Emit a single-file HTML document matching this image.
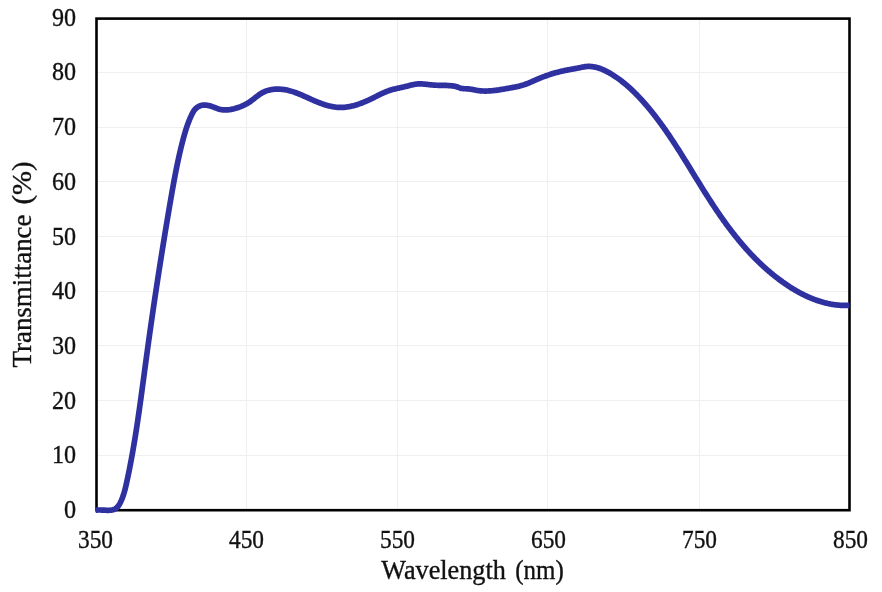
<!DOCTYPE html>
<html><head><meta charset="utf-8"><style>
html,body{margin:0;padding:0;background:#fff;}
.wrap{will-change:transform;}
svg{display:block;}
text{font-family:"Liberation Serif",serif;fill:#111;stroke:#111;stroke-width:0.35px;}
</style></head><body>
<div class="wrap"><svg width="882" height="592" viewBox="0 0 882 592">
<rect width="882" height="592" fill="#fff"/>
<g stroke="#efefef" stroke-width="1"><line x1="96.5" y1="455.50" x2="849.5" y2="455.50"/><line x1="96.5" y1="400.50" x2="849.5" y2="400.50"/><line x1="96.5" y1="345.50" x2="849.5" y2="345.50"/><line x1="96.5" y1="291.50" x2="849.5" y2="291.50"/><line x1="96.5" y1="236.50" x2="849.5" y2="236.50"/><line x1="96.5" y1="181.50" x2="849.5" y2="181.50"/><line x1="96.5" y1="127.50" x2="849.5" y2="127.50"/><line x1="96.5" y1="72.50" x2="849.5" y2="72.50"/><line x1="246.50" y1="18.6" x2="246.50" y2="510.2"/><line x1="397.50" y1="18.6" x2="397.50" y2="510.2"/><line x1="547.50" y1="18.6" x2="547.50" y2="510.2"/><line x1="699.50" y1="18.6" x2="699.50" y2="510.2"/></g>
<rect x="96.5" y="18.6" width="753.0" height="491.59999999999997" fill="none" stroke="#000" stroke-width="2.6"/>
<path d="M95.50,510.20 L96.36,510.11 L97.21,510.05 L98.07,510.01 L98.93,510.00 L99.80,510.00 L100.66,510.02 L101.53,510.05 L102.40,510.09 L103.27,510.13 L104.14,510.18 L105.01,510.22 L105.88,510.25 L106.75,510.28 L107.63,510.29 L108.50,510.29 L109.38,510.27 L110.25,510.22 L111.12,510.14 L111.98,510.02 L112.82,509.85 L113.64,509.61 L114.42,509.29 L115.16,508.90 L115.87,508.44 L116.53,507.92 L117.15,507.34 L117.73,506.71 L118.26,506.04 L118.76,505.34 L119.23,504.60 L119.67,503.84 L120.09,503.06 L120.48,502.26 L120.86,501.47 L121.23,500.67 L121.58,499.86 L121.91,499.05 L122.24,498.24 L122.55,497.43 L122.84,496.62 L123.13,495.80 L123.41,494.98 L123.67,494.15 L123.93,493.33 L124.18,492.50 L124.42,491.67 L124.65,490.84 L124.87,490.01 L125.09,489.18 L125.30,488.34 L125.51,487.50 L125.71,486.67 L125.91,485.83 L126.10,484.99 L126.29,484.15 L126.48,483.31 L126.66,482.47 L126.85,481.63 L127.03,480.78 L127.21,479.94 L127.39,479.10 L127.57,478.26 L127.75,477.41 L127.93,476.57 L128.10,475.73 L128.28,474.88 L128.45,474.04 L128.63,473.19 L128.80,472.35 L128.97,471.51 L129.14,470.66 L129.31,469.82 L129.48,468.97 L129.65,468.12 L129.81,467.28 L129.98,466.43 L130.14,465.58 L130.31,464.74 L130.47,463.89 L130.63,463.04 L130.79,462.20 L130.95,461.35 L131.11,460.50 L131.27,459.65 L131.43,458.80 L131.58,457.96 L131.74,457.11 L131.89,456.26 L132.05,455.41 L132.20,454.56 L132.35,453.71 L132.51,452.86 L132.66,452.01 L132.81,451.16 L132.96,450.31 L133.10,449.46 L133.25,448.61 L133.40,447.76 L133.54,446.91 L133.69,446.05 L133.83,445.20 L133.98,444.35 L134.12,443.50 L134.26,442.65 L134.41,441.79 L134.55,440.94 L134.69,440.09 L134.83,439.24 L134.97,438.38 L135.10,437.53 L135.24,436.68 L135.38,435.82 L135.52,434.97 L135.65,434.12 L135.79,433.26 L135.92,432.41 L136.06,431.55 L136.19,430.70 L136.32,429.84 L136.46,428.99 L136.59,428.13 L136.72,427.28 L136.85,426.42 L136.98,425.57 L137.11,424.71 L137.24,423.86 L137.37,423.00 L137.50,422.15 L137.62,421.29 L137.75,420.43 L137.88,419.58 L138.00,418.72 L138.13,417.87 L138.26,417.01 L138.38,416.15 L138.51,415.30 L138.63,414.44 L138.75,413.58 L138.88,412.73 L139.00,411.87 L139.12,411.01 L139.25,410.15 L139.37,409.30 L139.49,408.44 L139.61,407.58 L139.73,406.72 L139.85,405.87 L139.97,405.01 L140.09,404.15 L140.21,403.29 L140.33,402.43 L140.45,401.58 L140.57,400.72 L140.69,399.86 L140.81,399.00 L140.92,398.14 L141.04,397.29 L141.16,396.43 L141.28,395.57 L141.39,394.71 L141.51,393.85 L141.63,392.99 L141.75,392.13 L141.86,391.28 L141.98,390.42 L142.09,389.56 L142.21,388.70 L142.33,387.84 L142.44,386.98 L142.56,386.12 L142.67,385.26 L142.79,384.41 L142.90,383.55 L143.02,382.69 L143.13,381.83 L143.25,380.97 L143.36,380.11 L143.48,379.25 L143.59,378.39 L143.71,377.53 L143.82,376.67 L143.94,375.82 L144.05,374.96 L144.17,374.10 L144.28,373.24 L144.40,372.38 L144.51,371.52 L144.63,370.66 L144.74,369.80 L144.86,368.94 L144.97,368.08 L145.09,367.23 L145.20,366.37 L145.32,365.51 L145.43,364.65 L145.55,363.79 L145.67,362.93 L145.78,362.07 L145.90,361.21 L146.01,360.36 L146.13,359.50 L146.25,358.64 L146.36,357.78 L146.48,356.92 L146.60,356.06 L146.71,355.20 L146.83,354.35 L146.95,353.49 L147.06,352.63 L147.18,351.77 L147.30,350.91 L147.42,350.06 L147.54,349.20 L147.65,348.34 L147.77,347.48 L147.89,346.62 L148.01,345.77 L148.13,344.91 L148.25,344.05 L148.37,343.19 L148.49,342.34 L148.61,341.48 L148.73,340.62 L148.84,339.76 L148.96,338.91 L149.09,338.05 L149.21,337.19 L149.33,336.33 L149.45,335.48 L149.57,334.62 L149.69,333.76 L149.81,332.90 L149.93,332.05 L150.05,331.19 L150.17,330.33 L150.29,329.48 L150.42,328.62 L150.54,327.76 L150.66,326.90 L150.78,326.05 L150.91,325.19 L151.03,324.33 L151.15,323.48 L151.27,322.62 L151.40,321.76 L151.52,320.91 L151.64,320.05 L151.77,319.20 L151.89,318.34 L152.02,317.48 L152.14,316.63 L152.26,315.77 L152.39,314.91 L152.51,314.06 L152.64,313.20 L152.76,312.34 L152.89,311.49 L153.01,310.63 L153.14,309.78 L153.26,308.92 L153.39,308.06 L153.52,307.21 L153.64,306.35 L153.77,305.50 L153.89,304.64 L154.02,303.79 L154.15,302.93 L154.27,302.07 L154.40,301.22 L154.53,300.36 L154.66,299.51 L154.78,298.65 L154.91,297.80 L155.04,296.94 L155.17,296.09 L155.29,295.23 L155.42,294.38 L155.55,293.52 L155.68,292.66 L155.81,291.81 L155.94,290.95 L156.07,290.10 L156.20,289.24 L156.33,288.39 L156.45,287.53 L156.58,286.68 L156.71,285.82 L156.84,284.97 L156.97,284.11 L157.11,283.26 L157.24,282.41 L157.37,281.55 L157.50,280.70 L157.63,279.84 L157.76,278.99 L157.89,278.13 L158.02,277.28 L158.15,276.42 L158.29,275.57 L158.42,274.71 L158.55,273.86 L158.68,273.01 L158.82,272.15 L158.95,271.30 L159.08,270.44 L159.21,269.59 L159.35,268.73 L159.48,267.88 L159.61,267.03 L159.75,266.17 L159.88,265.32 L160.02,264.46 L160.15,263.61 L160.28,262.76 L160.42,261.90 L160.55,261.05 L160.69,260.20 L160.82,259.34 L160.96,258.49 L161.09,257.63 L161.23,256.78 L161.37,255.93 L161.50,255.07 L161.64,254.22 L161.77,253.37 L161.91,252.51 L162.05,251.66 L162.18,250.81 L162.32,249.95 L162.46,249.10 L162.59,248.25 L162.73,247.39 L162.87,246.54 L163.01,245.69 L163.15,244.83 L163.28,243.98 L163.42,243.13 L163.56,242.28 L163.70,241.42 L163.84,240.57 L163.98,239.72 L164.12,238.86 L164.25,238.01 L164.39,237.16 L164.53,236.31 L164.67,235.45 L164.81,234.60 L164.95,233.75 L165.09,232.90 L165.23,232.04 L165.37,231.19 L165.52,230.34 L165.66,229.49 L165.80,228.63 L165.94,227.78 L166.08,226.93 L166.22,226.08 L166.36,225.22 L166.51,224.37 L166.65,223.52 L166.79,222.67 L166.93,221.81 L167.08,220.96 L167.22,220.11 L167.36,219.26 L167.50,218.41 L167.65,217.55 L167.79,216.70 L167.93,215.85 L168.08,215.00 L168.22,214.15 L168.37,213.30 L168.51,212.44 L168.66,211.59 L168.80,210.74 L168.95,209.89 L169.09,209.04 L169.24,208.18 L169.38,207.33 L169.53,206.48 L169.67,205.63 L169.82,204.78 L169.96,203.93 L170.11,203.08 L170.26,202.22 L170.40,201.37 L170.55,200.52 L170.70,199.67 L170.85,198.82 L170.99,197.97 L171.14,197.12 L171.29,196.27 L171.44,195.41 L171.58,194.56 L171.73,193.71 L171.88,192.86 L172.03,192.01 L172.18,191.16 L172.33,190.31 L172.48,189.46 L172.63,188.61 L172.79,187.76 L172.94,186.91 L173.09,186.06 L173.25,185.21 L173.40,184.36 L173.55,183.51 L173.71,182.66 L173.87,181.81 L174.02,180.96 L174.18,180.11 L174.34,179.26 L174.50,178.41 L174.66,177.56 L174.82,176.71 L174.98,175.86 L175.14,175.01 L175.30,174.16 L175.47,173.32 L175.63,172.47 L175.80,171.62 L175.97,170.77 L176.14,169.92 L176.31,169.08 L176.48,168.23 L176.65,167.38 L176.82,166.53 L176.99,165.69 L177.17,164.84 L177.34,163.99 L177.52,163.15 L177.70,162.30 L177.88,161.46 L178.06,160.61 L178.24,159.76 L178.43,158.92 L178.61,158.07 L178.80,157.23 L178.99,156.38 L179.18,155.54 L179.37,154.69 L179.56,153.85 L179.75,153.01 L179.95,152.16 L180.14,151.32 L180.34,150.48 L180.54,149.63 L180.75,148.79 L180.95,147.95 L181.15,147.11 L181.36,146.27 L181.57,145.42 L181.78,144.58 L181.99,143.74 L182.21,142.90 L182.42,142.06 L182.64,141.22 L182.86,140.38 L183.08,139.54 L183.30,138.70 L183.53,137.86 L183.76,137.03 L183.99,136.19 L184.22,135.35 L184.46,134.52 L184.70,133.68 L184.94,132.85 L185.19,132.02 L185.44,131.19 L185.69,130.36 L185.95,129.53 L186.22,128.70 L186.49,127.88 L186.76,127.06 L187.04,126.24 L187.32,125.42 L187.61,124.60 L187.90,123.79 L188.20,122.98 L188.51,122.17 L188.82,121.37 L189.14,120.57 L189.47,119.77 L189.80,118.97 L190.14,118.18 L190.48,117.39 L190.84,116.60 L191.20,115.82 L191.57,115.04 L191.95,114.27 L192.33,113.50 L192.73,112.73 L193.14,111.98 L193.58,111.23 L194.05,110.51 L194.57,109.82 L195.14,109.15 L195.76,108.52 L196.44,107.93 L197.15,107.39 L197.91,106.89 L198.69,106.45 L199.50,106.07 L200.32,105.75 L201.14,105.50 L201.97,105.31 L202.81,105.17 L203.65,105.10 L204.50,105.07 L205.34,105.10 L206.19,105.17 L207.04,105.28 L207.88,105.42 L208.73,105.60 L209.57,105.82 L210.41,106.05 L211.25,106.31 L212.08,106.59 L212.91,106.88 L213.73,107.19 L214.55,107.50 L215.37,107.80 L216.19,108.11 L217.01,108.40 L217.83,108.68 L218.65,108.95 L219.48,109.19 L220.31,109.40 L221.14,109.57 L221.99,109.72 L222.84,109.83 L223.69,109.90 L224.55,109.94 L225.41,109.96 L226.27,109.94 L227.14,109.90 L228.00,109.83 L228.87,109.74 L229.74,109.62 L230.60,109.48 L231.46,109.33 L232.32,109.15 L233.18,108.96 L234.03,108.75 L234.87,108.52 L235.71,108.29 L236.55,108.04 L237.37,107.78 L238.19,107.51 L239.01,107.22 L239.82,106.93 L240.62,106.62 L241.41,106.29 L242.20,105.96 L242.98,105.61 L243.76,105.24 L244.53,104.86 L245.29,104.47 L246.05,104.07 L246.80,103.65 L247.55,103.21 L248.29,102.76 L249.02,102.30 L249.74,101.82 L250.46,101.32 L251.18,100.81 L251.89,100.29 L252.59,99.76 L253.29,99.22 L253.99,98.68 L254.69,98.13 L255.39,97.58 L256.09,97.03 L256.79,96.49 L257.49,95.96 L258.20,95.43 L258.91,94.91 L259.63,94.41 L260.36,93.93 L261.09,93.46 L261.83,93.02 L262.58,92.60 L263.35,92.20 L264.12,91.83 L264.90,91.49 L265.69,91.17 L266.49,90.88 L267.30,90.61 L268.12,90.36 L268.94,90.14 L269.77,89.93 L270.61,89.76 L271.45,89.60 L272.30,89.47 L273.15,89.35 L274.00,89.26 L274.86,89.19 L275.72,89.14 L276.58,89.10 L277.44,89.09 L278.31,89.09 L279.17,89.12 L280.03,89.16 L280.90,89.22 L281.76,89.29 L282.62,89.39 L283.47,89.49 L284.33,89.62 L285.17,89.76 L286.02,89.91 L286.86,90.08 L287.70,90.26 L288.53,90.46 L289.36,90.67 L290.19,90.89 L291.01,91.12 L291.83,91.37 L292.64,91.62 L293.46,91.89 L294.27,92.16 L295.07,92.45 L295.88,92.74 L296.68,93.04 L297.49,93.35 L298.29,93.67 L299.09,93.99 L299.88,94.32 L300.68,94.65 L301.48,94.99 L302.27,95.33 L303.06,95.68 L303.86,96.03 L304.65,96.39 L305.45,96.74 L306.24,97.10 L307.03,97.46 L307.83,97.82 L308.63,98.19 L309.42,98.55 L310.22,98.91 L311.02,99.27 L311.82,99.62 L312.62,99.98 L313.43,100.33 L314.23,100.68 L315.04,101.03 L315.85,101.37 L316.66,101.70 L317.48,102.04 L318.29,102.36 L319.11,102.68 L319.92,103.00 L320.74,103.30 L321.57,103.60 L322.39,103.90 L323.21,104.18 L324.04,104.45 L324.87,104.72 L325.69,104.98 L326.52,105.22 L327.35,105.46 L328.19,105.69 L329.02,105.90 L329.85,106.10 L330.69,106.29 L331.53,106.47 L332.36,106.63 L333.20,106.78 L334.04,106.92 L334.88,107.04 L335.72,107.15 L336.57,107.24 L337.41,107.31 L338.25,107.37 L339.10,107.41 L339.94,107.44 L340.79,107.45 L341.64,107.44 L342.48,107.41 L343.33,107.36 L344.18,107.30 L345.02,107.23 L345.87,107.13 L346.72,107.03 L347.56,106.91 L348.41,106.77 L349.26,106.62 L350.10,106.46 L350.95,106.28 L351.79,106.09 L352.63,105.89 L353.47,105.67 L354.31,105.45 L355.15,105.21 L355.99,104.96 L356.82,104.70 L357.66,104.44 L358.49,104.16 L359.32,103.87 L360.15,103.58 L360.97,103.27 L361.80,102.96 L362.62,102.64 L363.44,102.31 L364.25,101.98 L365.06,101.64 L365.87,101.29 L366.68,100.94 L367.48,100.59 L368.28,100.22 L369.08,99.86 L369.87,99.49 L370.66,99.11 L371.45,98.74 L372.23,98.36 L373.01,97.97 L373.78,97.59 L374.55,97.21 L375.32,96.82 L376.08,96.43 L376.85,96.05 L377.61,95.66 L378.37,95.28 L379.13,94.90 L379.89,94.53 L380.65,94.16 L381.41,93.79 L382.18,93.43 L382.94,93.08 L383.71,92.73 L384.48,92.39 L385.26,92.06 L386.04,91.73 L386.83,91.42 L387.62,91.12 L388.41,90.83 L389.22,90.55 L390.03,90.28 L390.84,90.02 L391.67,89.78 L392.50,89.55 L393.33,89.33 L394.17,89.11 L395.02,88.91 L395.87,88.71 L396.72,88.51 L397.58,88.32 L398.43,88.14 L399.29,87.95 L400.15,87.77 L401.01,87.58 L401.87,87.39 L402.73,87.20 L403.58,87.01 L404.43,86.81 L405.28,86.60 L406.13,86.39 L406.98,86.17 L407.82,85.95 L408.65,85.72 L409.49,85.50 L410.33,85.29 L411.16,85.08 L411.99,84.87 L412.83,84.68 L413.66,84.51 L414.50,84.35 L415.34,84.21 L416.18,84.09 L417.02,83.99 L417.87,83.92 L418.71,83.88 L419.57,83.86 L420.42,83.86 L421.28,83.89 L422.14,83.93 L423.00,83.99 L423.87,84.06 L424.73,84.14 L425.60,84.23 L426.47,84.33 L427.34,84.43 L428.21,84.53 L429.08,84.64 L429.96,84.74 L430.83,84.84 L431.70,84.93 L432.58,85.01 L433.45,85.08 L434.32,85.14 L435.19,85.19 L436.07,85.23 L436.94,85.27 L437.81,85.30 L438.68,85.32 L439.55,85.34 L440.41,85.35 L441.28,85.37 L442.15,85.38 L443.01,85.39 L443.88,85.41 L444.74,85.43 L445.60,85.45 L446.46,85.47 L447.32,85.51 L448.18,85.55 L449.04,85.60 L449.89,85.65 L450.75,85.72 L451.60,85.80 L452.45,85.90 L453.30,86.00 L454.15,86.13 L454.99,86.30 L455.81,86.50 L456.63,86.75 L457.44,87.04 L458.24,87.34 L459.05,87.64 L459.86,87.92 L460.68,88.17 L461.51,88.38 L462.35,88.53 L463.20,88.63 L464.06,88.69 L464.92,88.73 L465.79,88.75 L466.66,88.78 L467.53,88.82 L468.40,88.89 L469.26,88.98 L470.11,89.10 L470.96,89.24 L471.81,89.39 L472.66,89.56 L473.51,89.73 L474.36,89.90 L475.20,90.07 L476.05,90.23 L476.89,90.38 L477.74,90.51 L478.60,90.63 L479.45,90.73 L480.30,90.82 L481.16,90.89 L482.02,90.95 L482.87,90.99 L483.73,91.02 L484.60,91.04 L485.46,91.05 L486.32,91.04 L487.18,91.02 L488.05,90.99 L488.91,90.95 L489.78,90.90 L490.65,90.84 L491.51,90.77 L492.38,90.70 L493.25,90.61 L494.12,90.52 L494.98,90.42 L495.85,90.31 L496.72,90.19 L497.58,90.07 L498.45,89.95 L499.32,89.82 L500.18,89.68 L501.05,89.54 L501.91,89.40 L502.78,89.25 L503.64,89.10 L504.50,88.95 L505.36,88.80 L506.22,88.65 L507.08,88.49 L507.93,88.34 L508.79,88.18 L509.64,88.03 L510.49,87.87 L511.34,87.72 L512.19,87.57 L513.04,87.42 L513.88,87.26 L514.73,87.10 L515.57,86.94 L516.40,86.77 L517.24,86.60 L518.07,86.42 L518.90,86.23 L519.73,86.03 L520.55,85.82 L521.38,85.59 L522.19,85.36 L523.01,85.11 L523.82,84.84 L524.63,84.56 L525.44,84.27 L526.24,83.97 L527.05,83.66 L527.85,83.34 L528.65,83.01 L529.45,82.68 L530.24,82.34 L531.04,81.99 L531.84,81.65 L532.63,81.29 L533.43,80.94 L534.22,80.59 L535.02,80.23 L535.82,79.88 L536.62,79.53 L537.42,79.19 L538.22,78.84 L539.02,78.51 L539.82,78.18 L540.63,77.85 L541.44,77.53 L542.24,77.21 L543.06,76.90 L543.87,76.60 L544.68,76.30 L545.49,76.00 L546.31,75.71 L547.13,75.43 L547.95,75.15 L548.77,74.87 L549.59,74.60 L550.41,74.33 L551.23,74.07 L552.06,73.82 L552.88,73.57 L553.71,73.32 L554.54,73.08 L555.37,72.85 L556.20,72.62 L557.03,72.39 L557.86,72.17 L558.69,71.96 L559.53,71.75 L560.36,71.54 L561.20,71.34 L562.03,71.15 L562.87,70.96 L563.71,70.77 L564.55,70.59 L565.39,70.41 L566.23,70.24 L567.07,70.08 L567.92,69.91 L568.76,69.75 L569.60,69.60 L570.45,69.44 L571.30,69.29 L572.14,69.13 L572.99,68.98 L573.84,68.83 L574.70,68.67 L575.55,68.51 L576.40,68.36 L577.26,68.19 L578.12,68.03 L578.98,67.86 L579.84,67.68 L580.70,67.51 L581.57,67.32 L582.44,67.14 L583.30,66.97 L584.17,66.82 L585.03,66.69 L585.89,66.58 L586.75,66.50 L587.61,66.45 L588.47,66.43 L589.32,66.43 L590.17,66.46 L591.02,66.52 L591.86,66.60 L592.70,66.70 L593.54,66.82 L594.38,66.97 L595.21,67.13 L596.04,67.32 L596.87,67.53 L597.69,67.76 L598.51,68.01 L599.33,68.27 L600.14,68.55 L600.95,68.85 L601.75,69.16 L602.56,69.49 L603.35,69.84 L604.15,70.19 L604.94,70.57 L605.73,70.95 L606.51,71.35 L607.29,71.75 L608.06,72.17 L608.83,72.60 L609.59,73.03 L610.36,73.48 L611.11,73.93 L611.86,74.39 L612.61,74.85 L613.35,75.33 L614.09,75.80 L614.82,76.28 L615.55,76.77 L616.27,77.26 L616.99,77.76 L617.70,78.26 L618.41,78.77 L619.12,79.28 L619.82,79.80 L620.52,80.32 L621.21,80.84 L621.90,81.37 L622.58,81.91 L623.26,82.44 L623.93,82.99 L624.60,83.53 L625.27,84.08 L625.93,84.64 L626.59,85.20 L627.25,85.76 L627.90,86.33 L628.55,86.90 L629.19,87.47 L629.83,88.05 L630.47,88.63 L631.11,89.22 L631.74,89.81 L632.36,90.40 L632.99,91.00 L633.61,91.60 L634.22,92.20 L634.84,92.80 L635.45,93.41 L636.05,94.02 L636.66,94.63 L637.26,95.25 L637.86,95.87 L638.45,96.49 L639.04,97.12 L639.63,97.74 L640.22,98.37 L640.80,99.01 L641.38,99.64 L641.96,100.28 L642.54,100.92 L643.11,101.56 L643.68,102.20 L644.25,102.85 L644.82,103.49 L645.38,104.14 L645.95,104.79 L646.51,105.45 L647.06,106.10 L647.62,106.76 L648.17,107.41 L648.72,108.07 L649.27,108.74 L649.82,109.40 L650.36,110.06 L650.90,110.73 L651.44,111.40 L651.98,112.07 L652.52,112.74 L653.05,113.41 L653.59,114.09 L654.12,114.76 L654.64,115.44 L655.17,116.12 L655.70,116.80 L656.22,117.48 L656.74,118.16 L657.26,118.85 L657.78,119.54 L658.29,120.22 L658.81,120.91 L659.32,121.60 L659.83,122.29 L660.34,122.99 L660.85,123.68 L661.36,124.38 L661.86,125.07 L662.36,125.77 L662.86,126.47 L663.36,127.17 L663.86,127.87 L664.36,128.58 L664.86,129.28 L665.35,129.99 L665.84,130.69 L666.33,131.40 L666.83,132.11 L667.31,132.82 L667.80,133.53 L668.29,134.24 L668.77,134.95 L669.26,135.67 L669.74,136.38 L670.22,137.10 L670.70,137.82 L671.18,138.53 L671.66,139.25 L672.14,139.97 L672.61,140.69 L673.09,141.41 L673.56,142.13 L674.04,142.86 L674.51,143.58 L674.98,144.30 L675.45,145.03 L675.92,145.76 L676.39,146.48 L676.86,147.21 L677.32,147.94 L677.79,148.67 L678.26,149.39 L678.72,150.12 L679.18,150.85 L679.65,151.59 L680.11,152.32 L680.57,153.05 L681.03,153.78 L681.50,154.52 L681.96,155.25 L682.42,155.98 L682.87,156.72 L683.33,157.45 L683.79,158.19 L684.25,158.92 L684.71,159.66 L685.16,160.40 L685.62,161.13 L686.08,161.87 L686.53,162.61 L686.99,163.35 L687.44,164.08 L687.90,164.82 L688.35,165.56 L688.81,166.30 L689.26,167.04 L689.72,167.78 L690.17,168.52 L690.63,169.26 L691.08,170.00 L691.53,170.74 L691.99,171.48 L692.44,172.22 L692.90,172.96 L693.35,173.70 L693.80,174.44 L694.26,175.18 L694.71,175.92 L695.17,176.66 L695.62,177.40 L696.07,178.14 L696.53,178.88 L696.98,179.62 L697.44,180.36 L697.89,181.10 L698.35,181.84 L698.81,182.57 L699.26,183.31 L699.72,184.05 L700.18,184.79 L700.63,185.53 L701.09,186.27 L701.55,187.00 L702.01,187.74 L702.47,188.48 L702.93,189.21 L703.39,189.95 L703.85,190.69 L704.31,191.42 L704.77,192.16 L705.24,192.89 L705.70,193.62 L706.16,194.36 L706.63,195.09 L707.10,195.82 L707.56,196.56 L708.03,197.29 L708.50,198.02 L708.97,198.75 L709.44,199.48 L709.91,200.21 L710.38,200.93 L710.85,201.66 L711.32,202.39 L711.80,203.12 L712.27,203.84 L712.75,204.57 L713.23,205.29 L713.70,206.01 L714.18,206.74 L714.66,207.46 L715.15,208.18 L715.63,208.90 L716.11,209.62 L716.60,210.34 L717.08,211.05 L717.57,211.77 L718.06,212.49 L718.55,213.20 L719.04,213.91 L719.53,214.63 L720.02,215.34 L720.52,216.05 L721.01,216.76 L721.51,217.47 L722.00,218.18 L722.50,218.88 L723.00,219.59 L723.51,220.29 L724.01,221.00 L724.51,221.70 L725.02,222.40 L725.53,223.10 L726.03,223.80 L726.54,224.49 L727.06,225.19 L727.57,225.88 L728.08,226.58 L728.60,227.27 L729.12,227.96 L729.63,228.65 L730.15,229.34 L730.68,230.03 L731.20,230.71 L731.72,231.40 L732.25,232.08 L732.78,232.76 L733.31,233.44 L733.84,234.12 L734.37,234.80 L734.91,235.47 L735.44,236.15 L735.98,236.82 L736.52,237.49 L737.06,238.16 L737.60,238.83 L738.15,239.49 L738.69,240.16 L739.24,240.82 L739.79,241.48 L740.34,242.14 L740.89,242.80 L741.45,243.46 L742.01,244.11 L742.57,244.76 L743.13,245.42 L743.69,246.07 L744.25,246.71 L744.82,247.36 L745.39,248.00 L745.96,248.65 L746.53,249.29 L747.11,249.92 L747.68,250.56 L748.26,251.20 L748.84,251.83 L749.42,252.46 L750.01,253.09 L750.59,253.72 L751.18,254.34 L751.77,254.96 L752.36,255.59 L752.96,256.20 L753.55,256.82 L754.15,257.44 L754.75,258.05 L755.36,258.66 L755.96,259.27 L756.57,259.87 L757.18,260.48 L757.79,261.08 L758.41,261.68 L759.02,262.28 L759.64,262.87 L760.26,263.47 L760.89,264.06 L761.51,264.65 L762.14,265.23 L762.77,265.82 L763.41,266.40 L764.04,266.98 L764.68,267.56 L765.32,268.13 L765.96,268.70 L766.61,269.27 L767.25,269.84 L767.90,270.41 L768.56,270.97 L769.21,271.53 L769.87,272.09 L770.53,272.64 L771.19,273.19 L771.86,273.74 L772.52,274.29 L773.19,274.84 L773.87,275.38 L774.54,275.92 L775.22,276.46 L775.90,276.99 L776.58,277.52 L777.27,278.05 L777.96,278.58 L778.65,279.10 L779.34,279.62 L780.04,280.14 L780.74,280.66 L781.44,281.17 L782.15,281.68 L782.86,282.19 L783.57,282.69 L784.28,283.19 L785.00,283.69 L785.72,284.18 L786.44,284.67 L787.16,285.16 L787.89,285.64 L788.62,286.12 L789.35,286.60 L790.08,287.07 L790.82,287.54 L791.56,288.00 L792.30,288.46 L793.04,288.92 L793.79,289.37 L794.54,289.81 L795.29,290.26 L796.05,290.70 L796.80,291.13 L797.56,291.56 L798.32,291.98 L799.09,292.40 L799.85,292.82 L800.62,293.22 L801.39,293.63 L802.16,294.03 L802.94,294.42 L803.72,294.81 L804.50,295.19 L805.28,295.57 L806.06,295.94 L806.85,296.31 L807.64,296.67 L808.43,297.02 L809.22,297.37 L810.02,297.71 L810.81,298.04 L811.61,298.37 L812.41,298.70 L813.22,299.01 L814.02,299.32 L814.83,299.63 L815.64,299.93 L816.45,300.22 L817.26,300.50 L818.08,300.78 L818.89,301.05 L819.71,301.31 L820.53,301.56 L821.36,301.81 L822.18,302.05 L823.01,302.29 L823.84,302.51 L824.67,302.73 L825.50,302.94 L826.33,303.14 L827.17,303.34 L828.01,303.53 L828.85,303.70 L829.69,303.87 L830.53,304.04 L831.37,304.19 L832.22,304.34 L833.07,304.48 L833.92,304.60 L834.77,304.72 L835.62,304.84 L836.48,304.94 L837.33,305.03 L838.19,305.12 L839.05,305.19 L839.91,305.26 L840.77,305.32 L841.63,305.37 L842.50,305.41 L843.37,305.44 L844.23,305.46 L845.10,305.47 L845.97,305.47 L846.85,305.46 L847.72,305.44 L848.60,305.41 L849.47,305.37" fill="none" stroke="#2f31a0" stroke-width="5.7" stroke-linejoin="round" stroke-linecap="butt"/>
<g font-size="25"><text x="76.0" y="518.1" textLength="12.1" lengthAdjust="spacingAndGlyphs" text-anchor="end">0</text><text x="76.0" y="463.4" textLength="24.1" lengthAdjust="spacingAndGlyphs" text-anchor="end">10</text><text x="76.0" y="408.7" textLength="24.1" lengthAdjust="spacingAndGlyphs" text-anchor="end">20</text><text x="76.0" y="354.0" textLength="24.1" lengthAdjust="spacingAndGlyphs" text-anchor="end">30</text><text x="76.0" y="299.2" textLength="24.1" lengthAdjust="spacingAndGlyphs" text-anchor="end">40</text><text x="76.0" y="244.5" textLength="24.1" lengthAdjust="spacingAndGlyphs" text-anchor="end">50</text><text x="76.0" y="189.8" textLength="24.1" lengthAdjust="spacingAndGlyphs" text-anchor="end">60</text><text x="76.0" y="135.1" textLength="24.1" lengthAdjust="spacingAndGlyphs" text-anchor="end">70</text><text x="76.0" y="80.4" textLength="24.1" lengthAdjust="spacingAndGlyphs" text-anchor="end">80</text><text x="76.0" y="25.7" textLength="24.1" lengthAdjust="spacingAndGlyphs" text-anchor="end">90</text></g>
<g font-size="25"><text x="95.5" y="548.3" textLength="35" lengthAdjust="spacingAndGlyphs" text-anchor="middle">350</text><text x="246.5" y="548.3" textLength="35" lengthAdjust="spacingAndGlyphs" text-anchor="middle">450</text><text x="397.5" y="548.3" textLength="35" lengthAdjust="spacingAndGlyphs" text-anchor="middle">550</text><text x="548.5" y="548.3" textLength="35" lengthAdjust="spacingAndGlyphs" text-anchor="middle">650</text><text x="699.5" y="548.3" textLength="35" lengthAdjust="spacingAndGlyphs" text-anchor="middle">750</text><text x="850.5" y="548.3" textLength="35" lengthAdjust="spacingAndGlyphs" text-anchor="middle">850</text></g>
<text x="381.3" y="578.6" font-size="26.8" textLength="124.5" lengthAdjust="spacingAndGlyphs">Wavelength</text>
<text x="515.3" y="578.6" font-size="26.8" textLength="48.5" lengthAdjust="spacingAndGlyphs">(nm)</text>
<g transform="translate(31,367.5) rotate(-90)"><text x="0" y="0" font-size="26.8" textLength="153" lengthAdjust="spacingAndGlyphs">Transmittance</text>
<text x="163" y="0" font-size="26.8" textLength="43.2" lengthAdjust="spacingAndGlyphs">(%)</text></g>
</svg></div>
</body></html>
